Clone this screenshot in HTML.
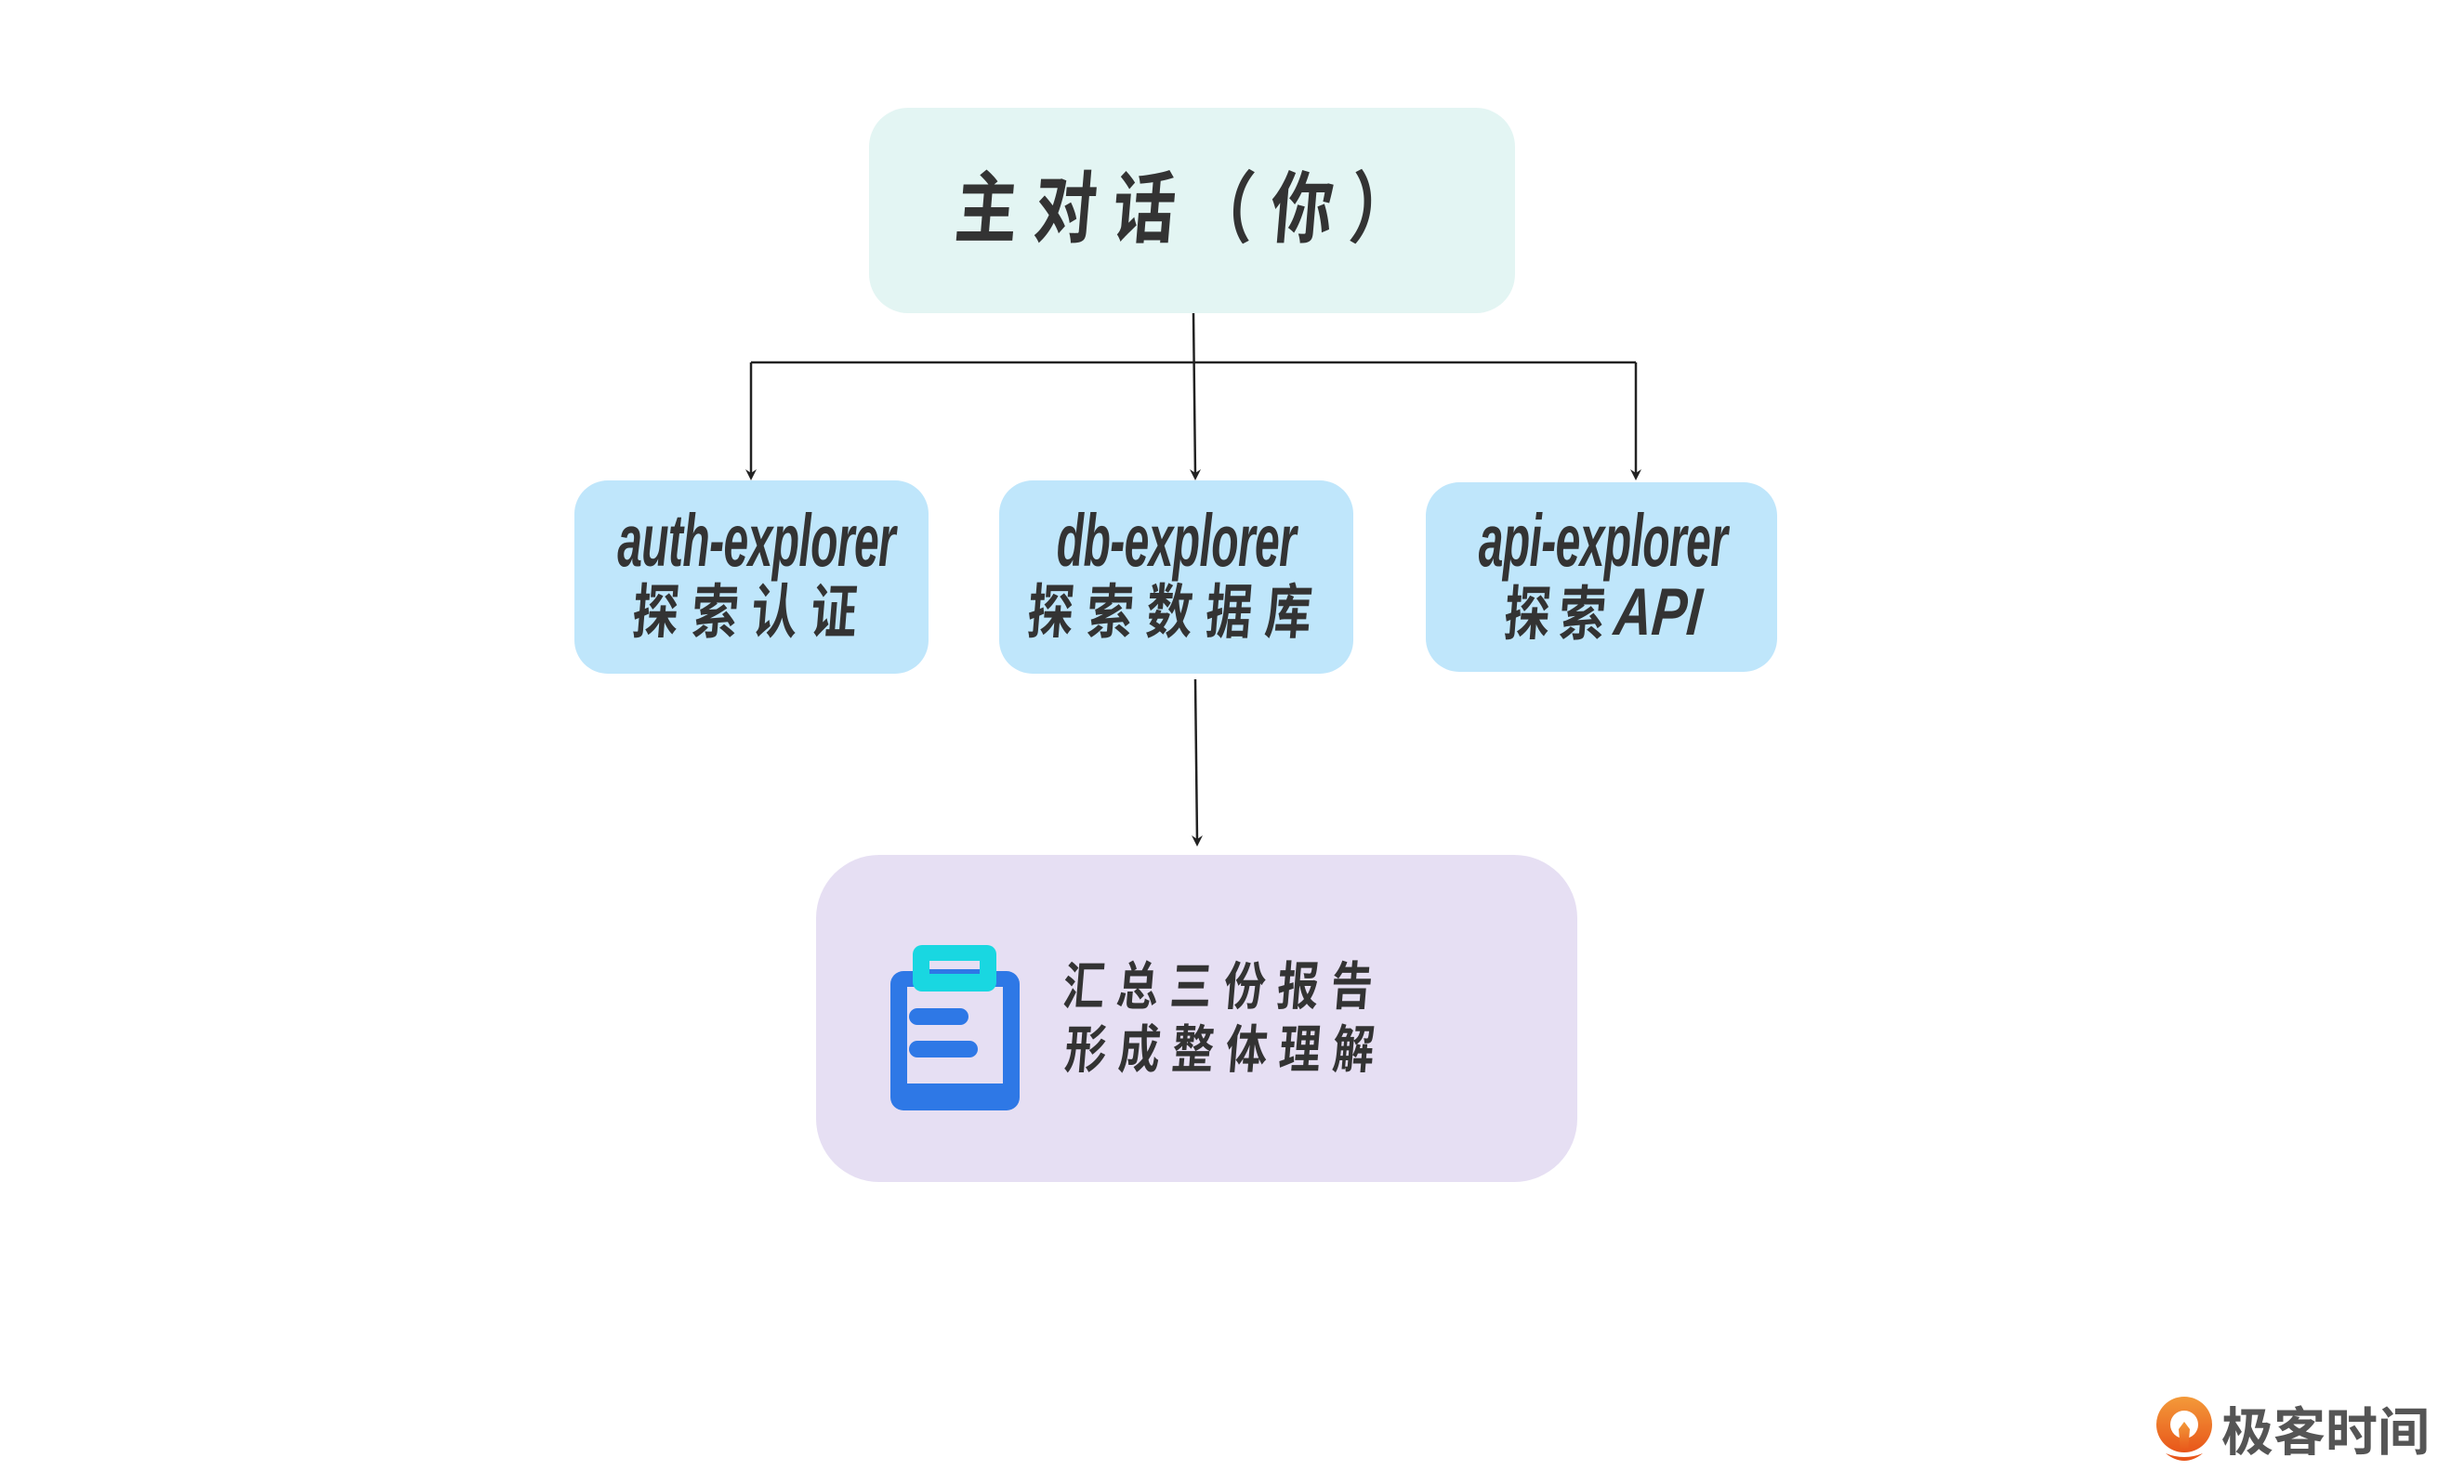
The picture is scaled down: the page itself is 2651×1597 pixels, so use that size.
<!DOCTYPE html>
<html><head><meta charset="utf-8"><style>
body{margin:0;width:2651px;height:1597px;background:#fff;position:relative;overflow:hidden;font-family:"Liberation Sans","Noto Sans CJK SC",sans-serif;}
#w{position:absolute;left:-6px;top:-3px;width:2651px;height:1597px;}
.box{position:absolute;box-sizing:border-box;}
.t{position:absolute;white-space:nowrap;color:#333;font-weight:bold;transform-origin:center;}
.en{font-size:80px;line-height:80px;font-weight:bold;font-style:italic;transform:scaleX(0.6);letter-spacing:-1px}
.cn{font-size:64px;line-height:76px;letter-spacing:18px;transform:scaleX(0.78) skewX(-6deg)}
</style></head><body>
<div id="w">
<div class="box" style="left:941px;top:119px;width:695px;height:221px;background:#e3f5f3;border-radius:42px"></div>
<div class="t" style="left:941px;width:695px;top:178px;text-align:center;font-size:84px;line-height:100px;letter-spacing:22px;transform:scaleX(0.8) skewX(-6deg)">主对话（你）</div>

<div class="box" style="left:624px;top:520px;width:381px;height:208px;background:#bfe6fb;border-radius:36px"></div>
<div class="box" style="left:1081px;top:520px;width:381px;height:208px;background:#bfe6fb;border-radius:36px"></div>
<div class="box" style="left:1540px;top:522px;width:378px;height:204px;background:#bfe6fb;border-radius:36px"></div>

<div class="t en" style="left:574px;width:481px;top:545px;text-align:center">auth-explorer</div>
<div class="t cn" style="left:574px;width:481px;top:624px;text-align:center">探索认证</div>
<div class="t en" style="left:1031px;width:481px;top:545px;text-align:center">db-explorer</div>
<div class="t cn" style="left:1031px;width:481px;top:624px;text-align:center">探索数据库</div>
<div class="t en" style="left:1490px;width:481px;top:545px;text-align:center">api-explorer</div>
<div class="t cn" style="left:1490px;width:481px;top:624px;text-align:center;letter-spacing:12px">探索<i style="font-size:72px;letter-spacing:0">API</i></div>

<svg style="position:absolute;left:0;top:0" width="2651" height="1597">
<g stroke="#222" stroke-width="2.5" fill="none">
<path d="M1290 340 L1292 515"/>
<path d="M814 393 L1766 393"/>
<path d="M814 393 L814 515"/>
<path d="M1766 393 L1766 515"/>
<path d="M1292 734 L1294 908"/>
</g>
<g fill="#222">
<path d="M808 508 L814 520 L820 508 L814 512Z"/>
<path d="M1286 508 L1292 520 L1298 508 L1292 512Z"/>
<path d="M1760 508 L1766 520 L1772 508 L1766 512Z"/>
<path d="M1288 902 L1294 914 L1300 902 L1294 906Z"/>
</g>
</svg>

<div class="box" style="left:884px;top:923px;width:819px;height:352px;background:#e6dff3;border-radius:68px"></div>
<svg style="position:absolute;left:960px;top:1020px" width="150" height="180">
<rect x="4" y="28" width="139" height="150" rx="14" fill="#2e78e6"/>
<rect x="22" y="45" width="103" height="104" fill="#e6dff3"/>
<rect x="28" y="0" width="90" height="50" rx="10" fill="#19d7e1"/>
<rect x="46" y="17" width="54" height="14" fill="#e6dff3"/>
<rect x="46" y="26" width="54" height="5" fill="#2e78e6"/>
<rect x="24" y="68" width="64" height="18" rx="9" fill="#2e78e6"/>
<rect x="24" y="103" width="74" height="18" rx="9" fill="#2e78e6"/>
</svg>
<div class="t" style="left:1110px;width:400px;top:1032px;text-align:center;font-size:56px;line-height:66px;letter-spacing:16px;transform:scaleX(0.8) skewX(-6deg)">汇总三份报告</div>
<div class="t" style="left:1112px;width:400px;top:1100px;text-align:center;font-size:56px;line-height:66px;letter-spacing:16px;transform:scaleX(0.8) skewX(-6deg)">形成整体理解</div>
</div>

<svg style="position:absolute;left:2318px;top:1500px" width="70" height="80">
<defs><linearGradient id="g" x1="0" y1="0" x2="0" y2="1"><stop offset="0" stop-color="#f39a3a"/><stop offset="1" stop-color="#e8561a"/></linearGradient></defs>
<circle cx="32" cy="33" r="30" fill="url(#g)"/>
<circle cx="32" cy="33" r="15" fill="#fff"/>
<path d="M26 38 L32 30 L38 38 L36 62 L28 62Z" fill="url(#g)"/>
<path d="M12 64 Q32 80 52 64 Q32 72 12 64Z" fill="#e8561a"/>
</svg>
<div style="position:absolute;left:2390px;top:1508px;font-size:56px;line-height:60px;color:#555;font-family:'Noto Sans CJK SC',sans-serif;font-weight:bold">极客时间</div>
</body></html>
